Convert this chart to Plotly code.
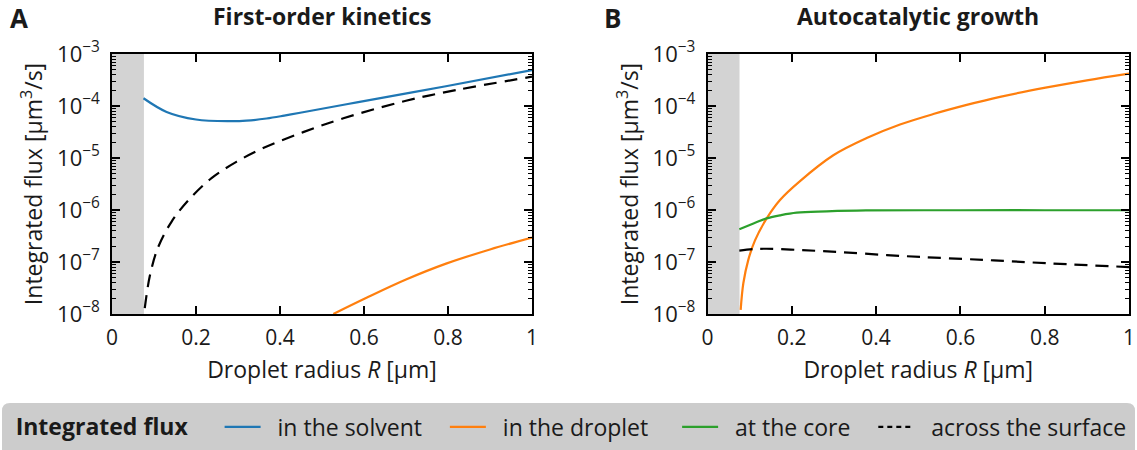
import plotly.graph_objects as go

# ---------------- data ----------------
# Panel A: first-order kinetics
a_solvent_R = [0.075, 0.13, 0.2, 0.281, 0.32, 0.368, 0.41, 0.448, 0.583, 0.795, 1.0]
a_solvent_J = [1.41e-4, 7.7e-5, 5.5e-5, 5.1e-5, 5.21e-5, 5.75e-5, 6.53e-5, 7.41e-5, 1.175e-4, 2.4e-4, 4.9e-4]

a_droplet_R = [0.527, 0.606, 0.7, 0.797, 0.9, 1.0]
a_droplet_J = [1.0e-8, 2.05e-8, 4.6e-8, 9.4e-8, 1.74e-7, 2.95e-7]

a_surface_R = [0.078, 0.0905, 0.11, 0.142, 0.182, 0.237, 0.297, 0.36, 0.4476, 0.551, 0.70, 0.82, 1.0]
a_surface_J = [1.3e-8, 5.6e-8, 1.94e-7, 6.0e-7, 1.55e-6, 4.1e-6, 8.5e-6, 1.55e-5, 2.98e-5, 5.8e-5, 1.26e-4, 2.03e-4, 3.66e-4]

# Panel B: autocatalytic growth
b_droplet_R = [0.0787, 0.085, 0.0968, 0.1127, 0.1404, 0.172, 0.2195, 0.2985, 0.3777, 0.4567, 0.5357, 0.615, 0.694, 0.802, 0.9, 1.0]
b_droplet_J = [1.2e-8, 3.9e-8, 1.1e-7, 2.6e-7, 6.9e-7, 1.56e-6, 3.6e-6, 1.13e-5, 2.42e-5, 4.4e-5, 7.0e-5, 1.05e-4, 1.5e-4, 2.25e-4, 3.12e-4, 4.2e-4]

b_core_R = [0.0755, 0.109, 0.14, 0.172, 0.2116, 0.283, 0.376, 0.6, 0.8, 1.0]
b_core_J = [4.27e-7, 5.5e-7, 6.9e-7, 7.9e-7, 8.9e-7, 9.4e-7, 9.8e-7, 9.9e-7, 9.9e-7, 9.9e-7]

b_surface_R = [0.0755, 0.11, 0.14, 0.22, 0.314, 0.425, 0.504, 0.654, 0.8126, 1.0]
b_surface_J = [1.66e-7, 1.77e-7, 1.8e-7, 1.7e-7, 1.55e-7, 1.36e-7, 1.25e-7, 1.1e-7, 9.4e-8, 8.0e-8]

core_radius = 0.076
x_ticks = [0, 0.2, 0.4, 0.6, 0.8, 1]
x_ticktext = ["0", "0.2", "0.4", "0.6", "0.8", "1"]
y_major = [1e-8, 1e-7, 1e-6, 1e-5, 1e-4, 1e-3]
y_major_text = ["10<sup>−8</sup>", "10<sup>−7</sup>", "10<sup>−6</sup>", "10<sup>−5</sup>",
                "10<sup>−4</sup>", "10<sup>−3</sup>"]
# minor (unlabelled) log ticks 2..9 x 10^n
y_minor = [k * 10.0 ** n for n in range(-8, -3) for k in range(2, 10)]

legend_names = ["in the solvent", "in the droplet", "at the core", "across the surface"]
legend_pad = [3, 4, 3, 0]   # trailing spaces that spread the legend entries

BLUE = "#1f77b4"
ORANGE = "#ff7f0e"
GREEN = "#2ca02c"
FONT = "Open Sans"
TXT = "#1a1a1a"
W, H = 1137, 450
NB = "\u00a0"

fig = go.Figure()

DASH = "13px,8px"

def line(x, y, color, xa, ya, dash="solid"):
    fig.add_trace(go.Scatter(
        x=x, y=y, mode="lines", xaxis=xa, yaxis=ya,
        line=dict(color=color, width=2.2, dash=dash, shape="spline", smoothing=1.0),
        showlegend=False, hoverinfo="skip"))

# Panel A
line(a_solvent_R, a_solvent_J, BLUE, "x", "y")
line(a_droplet_R, a_droplet_J, ORANGE, "x", "y")
line(a_surface_R, a_surface_J, "black", "x", "y", dash=DASH)
# Panel B
line(b_droplet_R, b_droplet_J, ORANGE, "x2", "y2")
line(b_core_R, b_core_J, GREEN, "x2", "y2")
line(b_surface_R, b_surface_J, "black", "x2", "y2", dash=DASH)

# legend entries
for name, pad, color, dash in zip(legend_names, legend_pad, [BLUE, ORANGE, GREEN, "black"],
                                  ["solid", "solid", "solid", "5px,4px"]):
    fig.add_trace(go.Scatter(x=[None], y=[None], mode="lines", name=NB * 2 + name + NB * pad,
                             line=dict(color=color, width=2.2, dash=dash), showlegend=True))

ytop, ybot = 54, 314
ydom = [1 - ybot / H, 1 - ytop / H]
xdomA = [112 / W, 532 / W]
xdomB = [707.5 / W, 1129 / W]

xcommon = dict(range=[0, 1], tickvals=x_ticks, ticktext=x_ticktext, ticks="inside",
               ticklen=8, tickwidth=1.5, tickcolor="black", showline=True, linecolor="black",
               linewidth=2, mirror="ticks", showgrid=False, zeroline=False, automargin=False,
               tickfont=dict(family=FONT, size=21, color=TXT), ticklabelstandoff=4,
               title=dict(text="Droplet radius <i>R</i> [μm]", standoff=12,
                          font=dict(family=FONT, size=23, color=TXT)))
ycommon = dict(type="log", range=[-8, -3], tickmode="array", tickvals=y_major,
               ticktext=[t + NB for t in y_major_text],
               ticks="inside", ticklen=8, tickwidth=1.5, tickcolor="black",
               showline=True, linecolor="black", linewidth=2, mirror="ticks",
               showgrid=False, zeroline=False, automargin=False,
               minor=dict(tickmode="array", tickvals=y_minor, ticks="inside", ticklen=4,
                          tickwidth=1, tickcolor="black", showgrid=False),
               tickfont=dict(family=FONT, size=22, color=TXT),
               title=dict(text="Integrated flux [μm<sup>3</sup>/s]", standoff=8,
                          font=dict(family=FONT, size=23, color=TXT)))

fig.update_layout(
    width=W, height=H, margin=dict(l=0, r=0, t=0, b=0, autoexpand=False),
    paper_bgcolor="white", plot_bgcolor="white",
    xaxis=dict(domain=xdomA, anchor="y", **xcommon),
    yaxis=dict(domain=ydom, anchor="x", **ycommon),
    xaxis2=dict(domain=xdomB, anchor="y2", **xcommon),
    yaxis2=dict(domain=ydom, anchor="x2", **ycommon),
    legend=dict(orientation="h", xref="container", yref="container",
                x=0.012, xanchor="left", y=(450 - 427) / H, yanchor="middle",
                bgcolor="rgba(0,0,0,0)", font=dict(family=FONT, size=23, color=TXT),
                title=dict(text="<b>Integrated flux</b>" + NB * 4,
                           font=dict(family=FONT, size=23, color=TXT)),
                itemwidth=36, traceorder="normal"),
)

# grey core region
for xr, yr in [("x", "y"), ("x2", "y2")]:
    fig.add_shape(type="rect", xref=xr, yref=yr + " domain", x0=0, x1=core_radius, y0=0, y1=1,
                  fillcolor="#d3d3d3", line=dict(width=0), layer="below")

# legend background box with rounded corners
rx, ry = 8 / W, 8 / H
x0, x1, y0, y1 = 2 / W, 1 - 2 / W, -0.05, 1 - 403 / H
path = (f"M {x0+rx},{y1} L {x1-rx},{y1} Q {x1},{y1} {x1},{y1-ry} L {x1},{y0} "
        f"L {x0},{y0} L {x0},{y1-ry} Q {x0},{y1} {x0+rx},{y1} Z")
fig.add_shape(type="path", xref="paper", yref="paper", path=path,
              fillcolor="#cccccc", line=dict(width=0), layer="below")

# titles and panel letters
for txt, xc in [("First-order kinetics", (xdomA[0] + xdomA[1]) / 2),
                ("Autocatalytic growth", (xdomB[0] + xdomB[1]) / 2)]:
    fig.add_annotation(text=f"<b>{txt}</b>", xref="paper", yref="paper", x=xc, y=1 - 16 / H,
                       showarrow=False, xanchor="center", yanchor="middle",
                       font=dict(family=FONT, size=23, color=TXT))
for txt, xp in [("A", 8 / W), ("B", 602 / W)]:
    fig.add_annotation(text=f"<b>{txt}</b>", xref="paper", yref="paper", x=xp, y=1 - 18 / H,
                       showarrow=False, xanchor="left", yanchor="middle",
                       font=dict(family=FONT, size=26, color=TXT))

fig.write_html("out.html")
